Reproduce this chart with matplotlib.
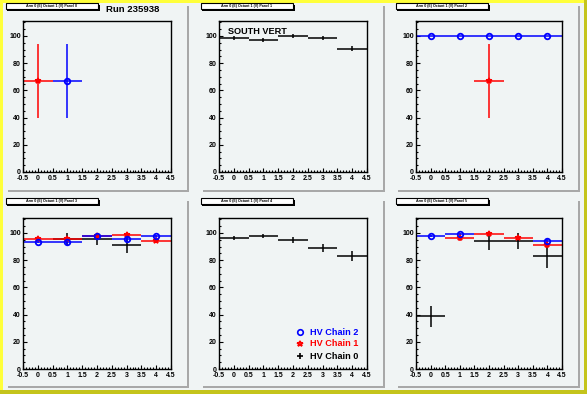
import numpy as np
import matplotlib
matplotlib.use('Agg')
import matplotlib.pyplot as plt
from matplotlib.patches import Rectangle
from matplotlib.ticker import MultipleLocator

plt.rcParams['font.family'] = ['Liberation Sans', 'DejaVu Sans']
plt.rcParams['font.weight'] = 'bold'

# bins (octant channels) and per-panel efficiencies
bins = [0, 1, 2, 3, 4]
panel_names = ['Arm 0 (E) Octant 1 (V) Panel 0', 'Arm 0 (E) Octant 1 (V) Panel 1',
               'Arm 0 (E) Octant 1 (V) Panel 2', 'Arm 0 (E) Octant 1 (V) Panel 3',
               'Arm 0 (E) Octant 1 (V) Panel 4', 'Arm 0 (E) Octant 1 (V) Panel 5']

# HV chain 0 (black): x, y, yerr  per panel
ch0_x = [[], [0, 1, 2, 3, 4], [], [1, 2, 3], [0, 1, 2, 3, 4], [0, 2, 3, 4]]
ch0_y = [[], [98.8, 97.3, 99.8, 98.3, 90.7], [], [95.4, 95.4, 91.5],
         [96.1, 97.6, 94.9, 88.8, 83.0], [38.6, 94.0, 94.0, 83.0]]
ch0_e = [[], [1.5, 1.5, 1.5, 1.5, 2.0], [], [4.5, 4.2, 6.0],
         [1.5, 1.5, 2.0, 3.0, 3.5], [7.9, 6.5, 6.0, 9.0]]

# HV chain 1 (red)
ch1_x = [[0], [], [2], [0, 1, 2, 3, 4], [], [1, 2, 3, 4]]
ch1_y = [[66.7], [], [66.7], [95.4, 95.4, 97.6, 98.3, 93.9], [], [96.1, 99.0, 96.1, 91.0]]
ch1_e = [[27.2], [], [27.2], [1.2, 1.2, 1.0, 1.0, 1.5], [], [1.8, 1.0, 1.5, 2.0]]

# HV chain 2 (blue)
ch2_x = [[1], [], [0, 1, 2, 3, 4], [0, 1, 2, 3, 4], [], [0, 1, 4]]
ch2_y = [[66.7], [], [100, 100, 100, 100, 100], [93.7, 93.2, 97.6, 95.4, 97.6], [],
         [97.6, 99.0, 94.2]]
ch2_e = [[27.2], [], [0, 0, 0, 0, 0], [1.0, 1.0, 1.0, 1.0, 1.0], [], [0.8, 0.8, 1.0]]

legend_labels = ['HV Chain 2', 'HV Chain 1', 'HV Chain 0']

W, H = 587, 394
BG = '#f0f4f4'
fig = plt.figure(figsize=(W / 100, H / 100), dpi=100, facecolor=BG)

bg = fig.add_axes([0, 0, 1, 1], zorder=0)
bg.set_xlim(0, W)
bg.set_ylim(H, 0)
bg.axis('off')

# canvas bevel border
bg.add_patch(Rectangle((0, 0), 3, H, color='#ffff3a', lw=0))
bg.add_patch(Rectangle((0, 0), W, 3, color='#ffff3a', lw=0))
bg.add_patch(Rectangle((W - 3, 0), 3, H, color='#c4c41c', lw=0))
bg.add_patch(Rectangle((0, H - 4), W, 4, color='#c4c41c', lw=0))

pad_cols = [(7, 187), (202, 383), (397, 578)]
pad_rows = [(4, 190), (199, 386)]
ax_cols = [(23, 171), (219, 367), (416, 562)]
ax_rows = [(21, 172), (218, 369)]

for r in range(2):
    for c in range(3):
        x0, x1 = pad_cols[c]
        y0, y1 = pad_rows[r]
        bg.add_patch(Rectangle((x1, y0 + 2), 2, y1 - y0, color='#a8a8a8', lw=0))
        bg.add_patch(Rectangle((x0 + 1, y1), x1 - x0 + 1, 2, color='#a8a8a8', lw=0))
        # title box with shadow
        bg.add_patch(Rectangle((x0, y0 + 1), 93, 6, facecolor='black', lw=0))
        bg.add_patch(Rectangle((x0 - 1, y0 - 1), 92, 6, facecolor='white',
                               edgecolor='black', lw=0.8))
        bg.text(x0 + 45, y0 + 2, panel_names[r * 3 + c], fontsize=2.6,
                ha='center', va='center', fontweight='bold')

bg.text(106, 9, 'Run 235938', fontsize=6.8, fontweight='bold', va='center', ha='left')

for i in range(6):
    r, c = divmod(i, 3)
    x0, x1 = ax_cols[c]
    y0, y1 = ax_rows[r]
    ax = fig.add_axes([x0 / W, 1 - y1 / H, (x1 - x0) / W, (y1 - y0) / H], zorder=1)
    ax.set_facecolor(BG)
    ax.set_xlim(-0.5, 4.5)
    ax.set_ylim(0, 111)
    ax.xaxis.set_major_locator(MultipleLocator(0.5))
    ax.xaxis.set_minor_locator(MultipleLocator(0.1))
    ax.yaxis.set_major_locator(MultipleLocator(20))
    ax.yaxis.set_minor_locator(MultipleLocator(5))
    ax.tick_params(which='both', direction='in', top=False, right=False,
                   labelsize=5, width=0.8)
    ax.tick_params(axis='x', pad=2)
    ax.tick_params(axis='y', pad=1.5)
    ax.tick_params(which='major', length=3)
    ax.tick_params(which='minor', length=1.5)
    ax.set_xticks(np.arange(-0.5, 4.51, 0.5))
    ax.set_xticklabels(['-0.5', '0', '0.5', '1', '1.5', '2', '2.5', '3', '3.5', '4', '4.5'])
    for sp in ax.spines.values():
        sp.set_linewidth(1.0)

    if ch0_x[i]:
        ax.errorbar(ch0_x[i], ch0_y[i], yerr=ch0_e[i], xerr=0.5, fmt='none',
                    ecolor='black', elinewidth=1.1, capsize=0)
    if ch1_x[i]:
        ax.errorbar(ch1_x[i], ch1_y[i], yerr=ch1_e[i], xerr=0.5, fmt='*',
                    color='red', ms=4, mfc='none', mew=1.1, elinewidth=1.1, capsize=0)
    if ch2_x[i]:
        ax.errorbar(ch2_x[i], ch2_y[i], yerr=ch2_e[i], xerr=0.5, fmt='o',
                    color='blue', ms=4, mfc='none', mew=1.3, elinewidth=1.1, capsize=0)

    if i == 1:
        ax.text(0.06, 0.93, 'SOUTH VERT', transform=ax.transAxes, fontsize=6.6,
                fontweight='bold', va='center', ha='left')
    if i == 4:
        styles = [('o', 'blue'), ('*', 'red'), ('+', 'black')]
        ys = [0.245, 0.166, 0.086]
        for (m, col), yy, lab in zip(styles, ys, legend_labels):
            ax.plot([0.55], [yy], marker=m, color=col, mfc='none', ms=4, mew=1.2,
                    transform=ax.transAxes, clip_on=False)
            ax.text(0.615, yy, lab, transform=ax.transAxes, color=col, fontsize=6.6,
                    fontweight='bold', va='center', ha='left')

fig.savefig('out.png', dpi=100, facecolor=BG)
